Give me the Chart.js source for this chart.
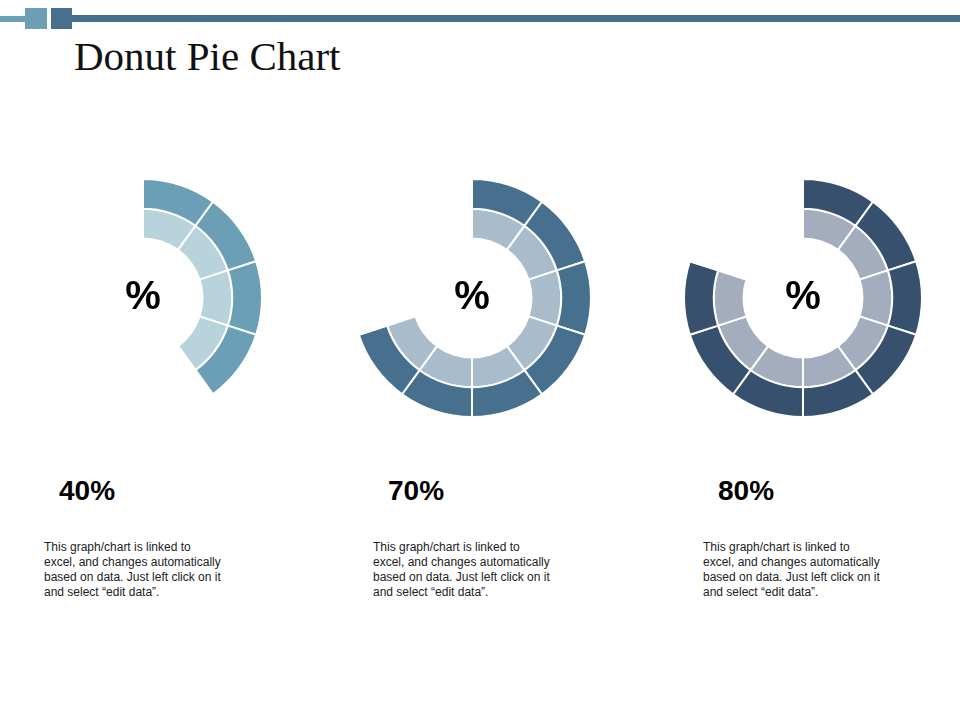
<!DOCTYPE html>
<html><head><meta charset="utf-8">
<script src="https://cdn.jsdelivr.net/npm/chart.js@4"></script>
<style>
body{margin:0;width:960px;height:720px;position:relative;background:#fff;overflow:hidden;font-family:"Liberation Sans",Arial,sans-serif}
.b{position:absolute}
canvas{position:absolute}
.pc{position:absolute;font-weight:bold;font-size:40px;width:100px;text-align:center;color:#000}
.val{position:absolute;font-weight:bold;font-size:28px;color:#000}
.txt{position:absolute;font-size:12px;line-height:15px;color:#222;width:210px}
</style></head><body>
<div class="b" style="left:0;top:16px;width:26px;height:6px;background:#6a9fb5"></div>
<div class="b" style="left:25px;top:8px;width:22px;height:21px;background:#6a9fb5"></div>
<div class="b" style="left:51px;top:8px;width:21px;height:21px;background:#46708e"></div>
<div class="b" style="left:72px;top:15px;width:888px;height:7px;background:#46708e"></div>
<div class="b" style="left:74px;top:32px;font-family:'Liberation Serif','DejaVu Serif',serif;font-size:41px;color:#111">Donut Pie Chart</div>
<div id="root"></div>
<script>
const labels=['%','%','%'];
const values=[40,70,80];
const valueLabels=['40%','70%','80%'];
const segments=[1,1,1,1,1,1,1,1,1,1];
const outerColors=['#6a9fb5','#46708e','#36506e'];
const innerColors=['#b8d3dc','#a9bccb','#a3adbd'];
const centersX=[143,472,803];
const textX=[44,373,703];
const desc='This graph/chart is linked to<br>excel, and changes automatically<br>based on data. Just left click on it<br>and select “edit data”.';
const root=document.getElementById('root');
values.forEach((v,i)=>{
  const size=240;
  const c=document.createElement('canvas');
  c.width=size;c.height=size;
  c.style.left=(centersX[i]-size/2)+'px';c.style.top=(298-size/2)+'px';
  root.appendChild(c);
  const n=v/10;
  new Chart(c,{type:'doughnut',data:{labels:segments.map((_,k)=>k),datasets:[
    {data:segments,backgroundColor:segments.map((_,k)=>k<n?outerColors[i]:'rgba(0,0,0,0)'),borderColor:'#fff',borderWidth:2},
    {data:segments,backgroundColor:segments.map((_,k)=>k<n?innerColors[i]:'rgba(0,0,0,0)'),borderColor:'#fff',borderWidth:2}
  ]},options:{responsive:false,animation:false,cutout:'50%',layout:{padding:0},
    plugins:{legend:{display:false},tooltip:{enabled:false}}}});
  const p=document.createElement('div');p.className='pc';p.textContent=labels[i];
  p.style.left=(centersX[i]-50)+'px';p.style.top='273px';root.appendChild(p);
  const vl=document.createElement('div');vl.className='val';vl.textContent=valueLabels[i];
  vl.style.left=(textX[i]+15)+'px';vl.style.top='475px';root.appendChild(vl);
  const t=document.createElement('div');t.className='txt';t.innerHTML=desc;
  t.style.left=textX[i]+'px';t.style.top='540px';root.appendChild(t);
});
</script>
</body></html>
